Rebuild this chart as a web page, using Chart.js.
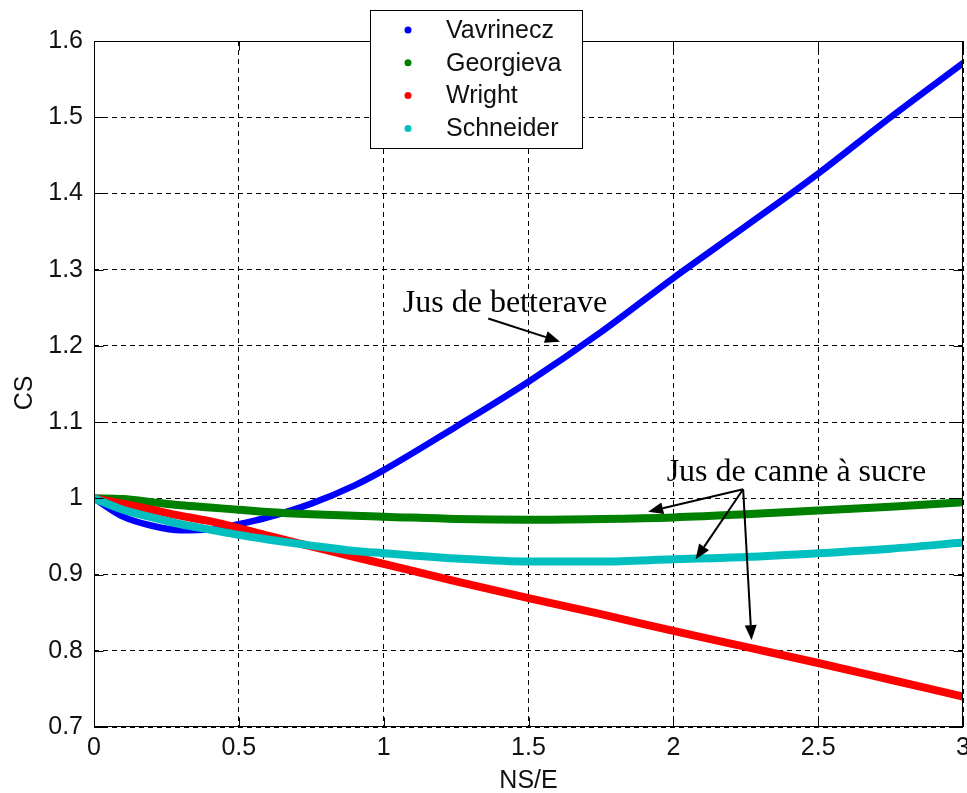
<!DOCTYPE html>
<html>
<head>
<meta charset="utf-8">
<script src="https://cdn.jsdelivr.net/npm/chart.js@4.4.1/dist/chart.umd.min.js"></script>
<style>
  html, body { margin: 0; padding: 0; background: #ffffff; }
  #wrap { width: 967px; height: 793px; position: relative; }
  canvas { display: block; }
</style>
</head>
<body>
<div id="wrap"><canvas id="c" width="967" height="793"></canvas></div>
<script>
// ---------- data ----------
const seriesNames = ['Vavrinecz', 'Georgieva', 'Wright', 'Schneider'];
const xValues   = [0, 0.1, 0.2, 0.3, 0.4, 0.5, 0.6, 0.75, 0.9, 1.0, 1.25, 1.5, 1.75, 2.0, 2.25, 2.5, 2.75, 3.0];
const vavrinecz = [1.000, 0.976, 0.964, 0.958, 0.959, 0.966, 0.975, 0.993, 1.017, 1.037, 1.094, 1.153, 1.218, 1.289, 1.357, 1.426, 1.500, 1.571];
const georgieva = [1.000, 0.999, 0.995, 0.991, 0.988, 0.985, 0.982, 0.979, 0.977, 0.976, 0.973, 0.972, 0.973, 0.975, 0.979, 0.984, 0.989, 0.995];
const wright    = [1.000, 0.993, 0.985, 0.977, 0.970, 0.961, 0.951, 0.937, 0.923, 0.914, 0.891, 0.869, 0.848, 0.826, 0.805, 0.784, 0.762, 0.740];
const schneider = [1.000, 0.985, 0.975, 0.966, 0.959, 0.952, 0.946, 0.938, 0.931, 0.928, 0.921, 0.917, 0.917, 0.920, 0.923, 0.928, 0.934, 0.942];

const xTicks = [0, 0.5, 1, 1.5, 2, 2.5, 3];
const xTickLabels = ['0', '0.5', '1', '1.5', '2', '2.5', '3'];
const yTicks = [0.7, 0.8, 0.9, 1.0, 1.1, 1.2, 1.3, 1.4, 1.5, 1.6];
const yTickLabels = ['0.7', '0.8', '0.9', '1', '1.1', '1.2', '1.3', '1.4', '1.5', '1.6'];
const xTitle = 'NS/E';
const yTitle = 'CS';

// annotation texts and arrows, in data units
const noteTexts = ['Jus de betterave', 'Jus de canne à sucre'];
const noteTextX = [1.066, 1.977];
const noteTextY = [1.245, 1.023];
const arrowFromX = [1.361, 2.241, 2.241, 2.241];
const arrowFromY = [1.236, 1.012, 1.012, 1.012];
const arrowToX   = [1.609, 1.913, 2.077, 2.270];
const arrowToY   = [1.2055, 0.9825, 0.920, 0.814];

// ---------- styles ----------
const colors = ['#0000ff', '#008000', '#ff0000', '#00bfbf'];
const widths = [6.5, 8, 8, 8];
const sansFont = '"Liberation Sans", Arial, sans-serif';
const serifFont = '"Liberation Serif", "Times New Roman", serif';

const allSeries = [vavrinecz, georgieva, wright, schneider];
const datasets = allSeries.map((vals, i) => ({
  label: seriesNames[i],
  data: xValues.map((x, j) => ({ x: x, y: vals[j] })),
  borderColor: colors[i],
  backgroundColor: colors[i],
  borderWidth: widths[i],
  pointRadius: 0,
  fill: false,
  cubicInterpolationMode: 'monotone',
  order: allSeries.length - i,   // later series drawn on top
  borderCapStyle: 'round',
  borderJoinStyle: 'round'
}));

const matlabDecor = {
  id: 'matlabDecor',
  afterDatasetsDraw(chart) {
    const ctx = chart.ctx;
    const a = chart.chartArea;
    const xs = chart.scales.x, ys = chart.scales.y;
    const L = Math.round(a.left) + 0.5, R = Math.round(a.right) - 0.5;
    const T = Math.round(a.top) + 0.5, B = Math.round(a.bottom) - 0.5;
    ctx.save();
    ctx.strokeStyle = '#000';
    ctx.lineWidth = 1;
    ctx.setLineDash([]);
    ctx.strokeRect(L, T, R - L, B - T);
    const tl = 9;
    ctx.beginPath();
    xTicks.forEach(v => {
      const px = Math.round(xs.getPixelForValue(v)) + 0.5;
      ctx.moveTo(px, B); ctx.lineTo(px, B - tl);
      ctx.moveTo(px, T); ctx.lineTo(px, T + tl);
    });
    yTicks.forEach(v => {
      const py = Math.round(ys.getPixelForValue(v)) + 0.5;
      ctx.moveTo(L, py); ctx.lineTo(L + tl, py);
      ctx.moveTo(R, py); ctx.lineTo(R - tl, py);
    });
    ctx.stroke();
    ctx.restore();
  },
  afterDraw(chart) {
    const ctx = chart.ctx;
    const xs = chart.scales.x, ys = chart.scales.y;
    const a = chart.chartArea;
    ctx.save();
    // y-axis title
    ctx.save();
    ctx.translate(25, (a.top + a.bottom) / 2 + 9);
    ctx.rotate(-Math.PI / 2);
    ctx.font = '25px ' + sansFont;
    ctx.fillStyle = '#111';
    ctx.textAlign = 'center';
    ctx.textBaseline = 'middle';
    ctx.fillText(yTitle, 0, 0);
    ctx.restore();
    // annotations
    ctx.fillStyle = '#000';
    ctx.font = '32px ' + serifFont;
    ctx.textAlign = 'left';
    ctx.textBaseline = 'alphabetic';
    noteTexts.forEach((t, i) => {
      ctx.fillText(t, xs.getPixelForValue(noteTextX[i]), ys.getPixelForValue(noteTextY[i]));
    });
    ctx.strokeStyle = '#000';
    ctx.lineWidth = 2;
    arrowFromX.forEach((fx, i) => {
      const x1 = xs.getPixelForValue(fx), y1 = ys.getPixelForValue(arrowFromY[i]);
      const x2 = xs.getPixelForValue(arrowToX[i]), y2 = ys.getPixelForValue(arrowToY[i]);
      const ang = Math.atan2(y2 - y1, x2 - x1);
      const hl = 15, hw = 6;
      const bx = x2 - hl * Math.cos(ang), by = y2 - hl * Math.sin(ang);
      ctx.beginPath();
      ctx.moveTo(x1, y1); ctx.lineTo(bx, by);
      ctx.stroke();
      ctx.beginPath();
      ctx.moveTo(x2, y2);
      ctx.lineTo(bx + hw * Math.sin(ang), by - hw * Math.cos(ang));
      ctx.lineTo(bx - hw * Math.sin(ang), by + hw * Math.cos(ang));
      ctx.closePath();
      ctx.fill();
    });
    // legend box
    const bx0 = 370.5, by0 = 10.5, bw = 212, bh = 138;
    ctx.fillStyle = '#fff';
    ctx.fillRect(bx0, by0, bw, bh);
    ctx.strokeStyle = '#000';
    ctx.lineWidth = 1;
    ctx.strokeRect(bx0, by0, bw, bh);
    ctx.font = '25px ' + sansFont;
    ctx.textBaseline = 'middle';
    chart.data.datasets.forEach((ds, i) => {
      const cy = 30 + i * 32.8;
      ctx.fillStyle = ds.borderColor;
      ctx.beginPath();
      ctx.arc(408, cy, 3.5, 0, Math.PI * 2);
      ctx.fill();
      ctx.fillStyle = '#111';
      ctx.fillText(ds.label, 446, cy + 1);
    });
    ctx.restore();
  }
};

new Chart(document.getElementById('c'), {
  type: 'line',
  data: { datasets: datasets },
  options: {
    responsive: false,
    animation: false,
    devicePixelRatio: 1,
    layout: { padding: { top: 41, right: 4, left: 0, bottom: 0 } },
    plugins: { legend: { display: false }, tooltip: { enabled: false } },
    scales: {
      x: {
        type: 'linear',
        min: 0, max: 3,
        afterBuildTicks: s => { s.ticks = xTicks.map(v => ({ value: v })); },
        afterFit: s => { s.height = 66; s.paddingLeft = 0; s.paddingRight = 0; },
        ticks: {
          autoSkip: false, maxRotation: 0, minRotation: 0,
          padding: 6, color: '#111',
          font: { family: sansFont, size: 25 },
          callback: (v, i) => xTickLabels[i]
        },
        grid: { color: '#000', lineWidth: 1, drawTicks: false },
        border: { display: false, dash: [5, 4] },
        title: {
          display: true, text: xTitle, color: '#111',
          font: { family: sansFont, size: 25, lineHeight: 1 },
          padding: { top: 0, bottom: -1 }
        }
      },
      y: {
        type: 'linear',
        min: 0.7, max: 1.6,
        afterBuildTicks: s => { s.ticks = yTicks.map(v => ({ value: v })); },
        afterFit: s => { s.width = 94; s.paddingTop = 0; s.paddingBottom = 0; },
        ticks: {
          autoSkip: false,
          padding: 11, color: '#111',
          font: { family: sansFont, size: 25 },
          callback: (v, i) => yTickLabels[i]
        },
        grid: { color: '#000', lineWidth: 1, drawTicks: false },
        border: { display: false, dash: [5, 4] }
      }
    }
  },
  plugins: [matlabDecor]
});
</script>
</body>
</html>
